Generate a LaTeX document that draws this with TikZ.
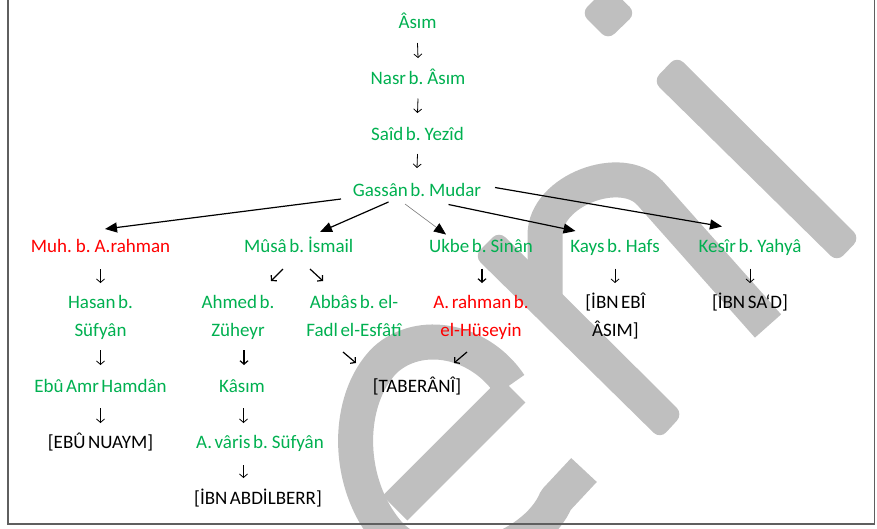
\documentclass[tikz,border=0pt]{standalone}
\usepackage{fontspec}
\setmainfont{Carlito}[WordSpace=0.6]
\usetikzlibrary{arrows.meta}
\definecolor{tgreen}{RGB}{0,176,80}
\definecolor{tred}{RGB}{255,0,0}
\definecolor{wmgray}{RGB}{191,191,191}
\definecolor{framegray}{RGB}{95,95,95}
\definecolor{linegray}{RGB}{120,120,120}
\begin{document}
\begin{tikzpicture}[x=1pt,y=-1pt,
  lbl/.style={inner sep=0pt, anchor=base, font=\fontsize{19}{28}\selectfont, align=center},
  grn/.style={lbl, text=tgreen},
  rd/.style={lbl, text=tred},
  blk/.style={lbl, text=black},
  big/.style={line width=1.2pt, -{Triangle[length=12pt,width=10pt]}},
  biggray/.style={line width=0.6pt, draw=linegray, -{Triangle[length=12pt,width=10pt,color=black]}},
  sa/.style={line width=0.8pt, -{Straight Barb[length=3.5pt,width=8pt]}},
  sab/.style={line width=1.2pt, -{Straight Barb[length=3.5pt,width=8pt]}},
  wm/.style={draw=wmgray, line width=35pt},
]
\useasboundingbox (0,0) rectangle (877,528);
% watermark
\fill[wmgray, rounded corners=9pt] (581,13) -- (608,40) -- (636,13) -- (608,-14) -- cycle;
\fill[wmgray, rounded corners=9pt] (653,81) -- (677,56) -- (860,238) -- (837,262) -- cycle;
\fill[wmgray, rounded corners=9pt] (474,256) -- (499,231) -- (683,414) -- (660,439) -- cycle;
\draw[wm] (545,300) -- (545,235) .. controls (545,190) and (622,162) .. (650,193) -- (768,326);
\draw[wm, line join=round] (584,470) -- (556,500) .. controls (535,550) and (440,585) .. (390,535) .. controls (345,485) and (345,400) .. (385,360) .. controls (420,328) and (480,340) .. (510,385);
\draw[wm] (513,390) -- (395,508);
% frame
\draw[framegray, line width=1.8pt] (8,-10) -- (8,524) -- (874.5,524) -- (874.5,-10);
% nodes (multi-line nodes are placed by the baseline of their last line)
\node[grn] (asim) at (417.5,28.5) {Âsım};
\node[grn] (nasr) at (418,84.5) {Nasr b. Âsım};
\node[grn] (said) at (417.5,140.5) {Saîd b. Yezîd};
\node[grn] (gassan) at (417,196.5) {Gassân b. Mudar};
\node[rd]  (muh) at (100.5,252.5) {Muh. b. A.rahman};
\node[grn] (musa) at (298.7,252.5) {Mûsâ b. İsmail};
\node[grn] (ukbe) at (481,252.5) {Ukbe b. Sinân};
\node[grn] (kays) at (615,252.5) {Kays b. Hafs};
\node[grn] (kesir) at (750,252.5) {Kesîr b. Yahyâ};
\node[grn] (hasan) at (100.5,336.5) {Hasan b.\\Süfyân};
\node[grn] (ahmed) at (238,336.5) {Ahmed b.\\Züheyr};
\node[grn] (abbas) at (354,336.5) {Abbâs b. el-\\Fadl el-Esfâtî};
\node[rd]  (arahman) at (481,336.5) {A. rahman b.\\el-Hüseyin};
\node[blk] (ibnebi) at (615.5,336.5) {[İBN EBÎ\\ÂSIM]};
\node[blk] (ibnsad) at (750,308.5) {[İBN SA‘D]};
\node[grn] (ebuamr) at (100.5,392.5) {Ebû Amr Hamdân};
\node[grn] (kasim) at (242,392.5) {Kâsım};
\node[blk] (taberani) at (417,392.5) {[TABERÂNÎ]};
\node[blk] (ebunuaym) at (100.5,448.5) {[EBÛ NUAYM]};
\node[grn] (avaris) at (260,448.5) {A. vâris b. Süfyân};
\node[blk] (abdilberr) at (258,504.5) {[İBN ABDİLBERR]};
% big arrows from Gassan
\draw[big] ([shift={(-76,2.5)}]gassan.base) -- ([shift={(4.5,-23.5)}]muh.base);
\draw[big] ([shift={(-28.5,5.5)}]gassan.base) -- ([shift={(21.3,-20.5)}]musa.base);
\draw[biggray] ([shift={(-12,7.5)}]gassan.base) -- ([shift={(-35,-18)}]ukbe.base);
\draw[big] ([shift={(31.5,8)}]gassan.base) -- ([shift={(-39.5,-21.5)}]kays.base);
\draw[big] ([shift={(78,-9)}]gassan.base) -- ([shift={(-28,-26)}]kesir.base);
% small arrows
\draw[sa] ([shift={(0,14.5)}]asim.base) -- ([shift={(0,-26.5)}]nasr.base);
\draw[sa] ([shift={(0,14)}]nasr.base) -- ([shift={(0,-27.5)}]said.base);
\draw[sa] ([shift={(0,13.5)}]said.base) -- ([shift={(0,-28.5)}]gassan.base);
\draw[sa] ([shift={(0,16.5)}]muh.base) -- ([shift={(0,-53.5)}]hasan.base);
\draw[sab] ([shift={(-15.7,16.5)}]musa.base) -- ([shift={(33,-55.5)}]ahmed.base);
\draw[sab] ([shift={(11.3,16.5)}]musa.base) -- ([shift={(-31,-55.5)}]abbas.base);
\draw[sab] ([shift={(1,16)}]ukbe.base) -- ([shift={(1,-53.5)}]arahman.base);
\draw[sa] ([shift={(0,16)}]kays.base) -- ([shift={(-0.5,-53.5)}]ibnebi.base);
\draw[sa] ([shift={(0,16)}]kesir.base) -- ([shift={(0,-25.5)}]ibnsad.base);
\draw[sa] ([shift={(0,13.5)}]hasan.base) -- ([shift={(0,-27.5)}]ebuamr.base);
\draw[sab] ([shift={(6,13.5)}]ahmed.base) -- ([shift={(2,-27.5)}]kasim.base);
\draw[sab] ([shift={(-11,15.5)}]abbas.base) -- ([shift={(-61,-29.5)}]taberani.base);
\draw[sab] ([shift={(-14,15.5)}]arahman.base) -- ([shift={(37,-29.5)}]taberani.base);
\draw[sa] ([shift={(0,15.5)}]ebuamr.base) -- ([shift={(0,-25.5)}]ebunuaym.base);
\draw[sa] ([shift={(1.5,15.5)}]kasim.base) -- ([shift={(-16.5,-25.5)}]avaris.base);
\draw[sa] ([shift={(-16.5,16.5)}]avaris.base) -- ([shift={(-14.5,-26.5)}]abdilberr.base);
\end{tikzpicture}
\end{document}
